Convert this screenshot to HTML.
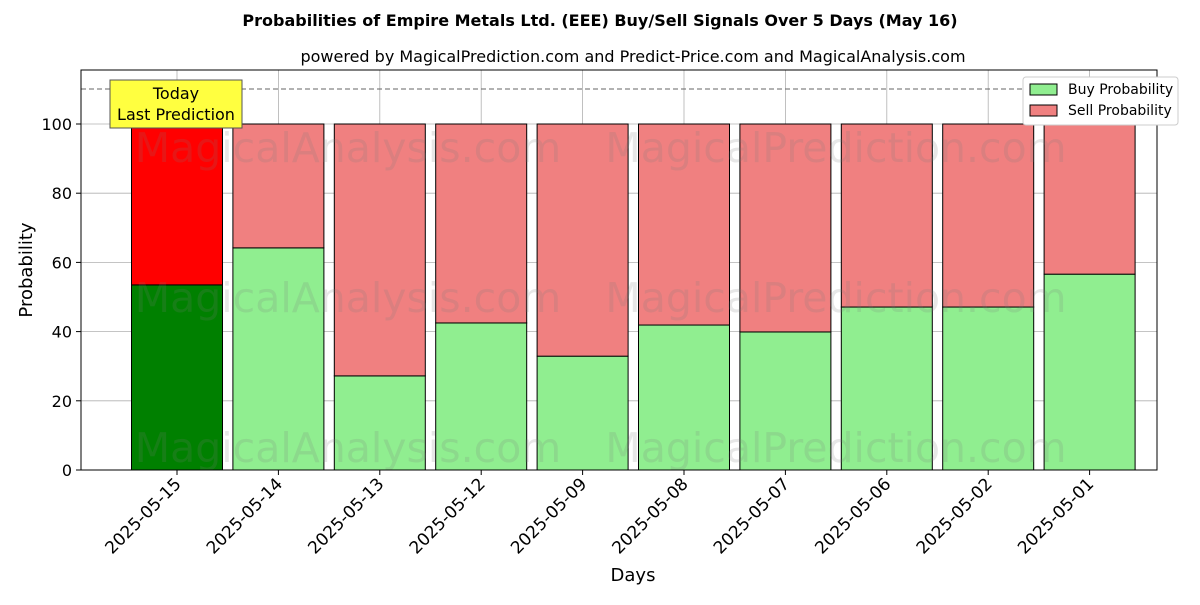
<!DOCTYPE html>
<html><head><meta charset="utf-8"><style>
body{margin:0;background:#fff;}
svg text{font-family:"DejaVu Sans","Liberation Sans",sans-serif;}
</style></head><body>
<svg id="chart" width="1200" height="600" xmlns="http://www.w3.org/2000/svg">
<text x="600" y="26" text-anchor="middle" font-size="16" font-weight="bold">Probabilities of Empire Metals Ltd. (EEE) Buy/Sell Signals Over 5 Days (May 16)</text>
<text x="633" y="62" text-anchor="middle" font-size="16">powered by MagicalPrediction.com and Predict-Price.com and MagicalAnalysis.com</text>
<g id="grid"></g>
<g id="bars"></g>
<g id="wm" font-size="41" fill="rgba(120,120,120,0.18)">
<text x="348" y="162" text-anchor="middle">MagicalAnalysis.com</text>
<text x="836" y="162" text-anchor="middle">MagicalPrediction.com</text>
<text x="348" y="312" text-anchor="middle">MagicalAnalysis.com</text>
<text x="836" y="312" text-anchor="middle">MagicalPrediction.com</text>
<text x="348" y="462" text-anchor="middle">MagicalAnalysis.com</text>
<text x="836" y="462" text-anchor="middle">MagicalPrediction.com</text>
</g>
<line x1="81" x2="1157" y1="89" y2="89" stroke="#666" stroke-dasharray="5,3"/>
<g id="axes"></g>
<g>
<rect x="110" y="80" width="132" height="48" fill="#ffff40" stroke="#555" />
<text x="176" y="99" text-anchor="middle" font-size="16">Today</text>
<text x="176" y="120" text-anchor="middle" font-size="16">Last Prediction</text>
</g>
<g>
<rect x="1023" y="77" width="155" height="48" fill="#fff" stroke="#ccc" rx="3"/>
<rect x="1030" y="84" width="27" height="11" fill="#90ee90" stroke="#000"/>
<text x="1068" y="94" font-size="14">Buy Probability</text>
<rect x="1030" y="105" width="27" height="11" fill="#f08080" stroke="#000"/>
<text x="1068" y="115" font-size="14">Sell Probability</text>
</g>
<text x="633" y="581" text-anchor="middle" font-size="18">Days</text>
<text x="32" y="270" text-anchor="middle" font-size="18" transform="rotate(-90 32 270)">Probability</text>
</svg>
<script>
const categories=["2025-05-15","2025-05-14","2025-05-13","2025-05-12","2025-05-09","2025-05-08","2025-05-07","2025-05-06","2025-05-02","2025-05-01"];
const buyValues=[53.5,64.2,27.2,42.5,32.9,41.9,39.9,47.1,47.1,56.6];
const sellValues=[46.5,35.8,72.8,57.5,67.1,58.1,60.1,52.9,52.9,43.4];
const yTicks=[0,20,40,60,80,100];
const NS="http://www.w3.org/2000/svg";
const L=81,R=1157,T=70,B=470;
const y=v=>B-v*3.46;
const x=i=>177+i*101.4;
const bw=91;
function mk(tag,attrs,parent){const e=document.createElementNS(NS,tag);for(const k in attrs)e.setAttribute(k,attrs[k]);parent.appendChild(e);return e;}
const grid=document.getElementById('grid'),bars=document.getElementById('bars'),axes=document.getElementById('axes');
yTicks.forEach(t=>{
 const g=mk('line',{x1:L,x2:R,y1:y(t),y2:y(t),stroke:'#b0b0b0','stroke-width':0.8},grid);
 
 
 mk('line',{x1:L-5,x2:L,y1:y(t),y2:y(t),stroke:'#000'},axes);
 const tx=mk('text',{x:L-9,y:y(t)+6,'text-anchor':'end','font-size':16},axes);tx.textContent=t;
 
 
});
categories.forEach((c,i)=>{
 const gl=mk('line',{x1:x(i),x2:x(i),y1:T,y2:B,stroke:'#b0b0b0','stroke-width':0.8},grid);
 
 
 const b=mk('rect',{x:x(i)-bw/2,y:y(buyValues[i]),width:bw,height:B-y(buyValues[i]),fill:i==0?'#008000':'#90ee90',stroke:'#000'},bars);
 
 
 const s=mk('rect',{x:x(i)-bw/2,y:y(buyValues[i]+sellValues[i]),width:bw,height:y(buyValues[i])-y(buyValues[i]+sellValues[i]),fill:i==0?'#ff0000':'#f08080',stroke:'#000'},bars);
 
 
 mk('line',{x1:x(i),x2:x(i),y1:B,y2:B+5,stroke:'#000'},axes);
 const tx=mk('text',{x:x(i)+5,y:B+15,'text-anchor':'end','font-size':17,transform:`rotate(-45 ${x(i)+5} ${B+15})`},axes);tx.textContent=c;
 
 
});
const fr=mk('rect',{x:L,y:T,width:R-L,height:B-T,fill:'none',stroke:'#000'},axes);


</script>
</body></html>
